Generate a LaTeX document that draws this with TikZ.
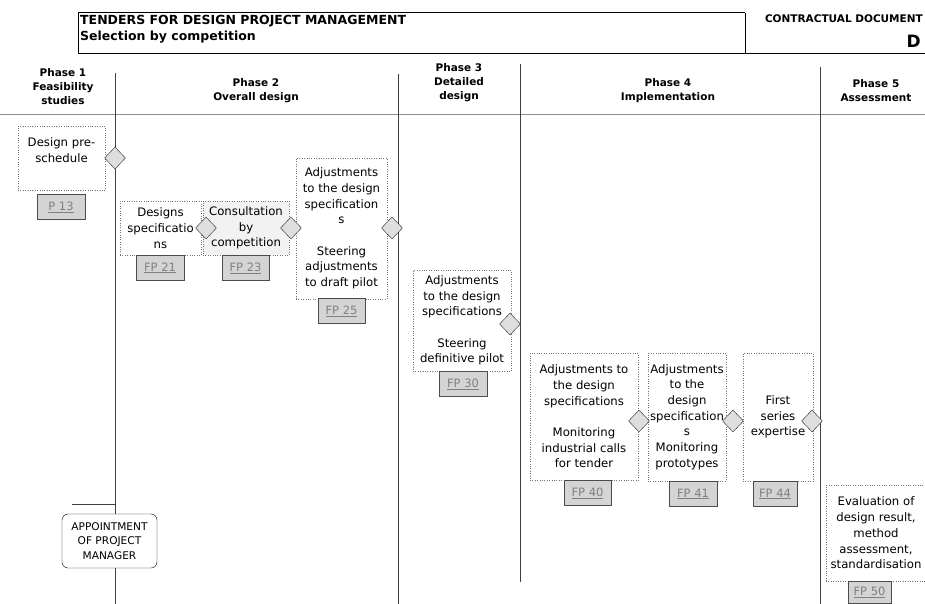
\documentclass[tikz,border=0pt]{standalone}
\usepackage{fontspec}
\setmainfont{DejaVu Sans}
\usetikzlibrary{shapes.geometric}

\begin{document}
\begin{tikzpicture}[x = 1pt, y = -1pt,
                stage/.style = {draw = black!55, dotted, align = center, inner sep = 0pt,
                                font = \fontsize{11.7}{15.7}\selectfont},
                gate/.style = {diamond, draw = black!85, fill = black!13, inner sep = 0pt,
                               minimum width = 21pt, minimum height = 22pt},
                sheet/.style = {draw = black!70, line width = 1pt, fill = black!17, inner sep = 0pt,
                                minimum height = 25pt, text = black!50,
                                font = \fontsize{11.5}{14}\selectfont},
                phase/.style = {align = center, font = \bfseries\fontsize{10.5}{14}\selectfont},
                lane/.style = {draw = black!75, line width = 0.9pt}]
                \clip (0,0) rectangle (925,604);
                \draw[line width = 1pt] (745,13) -- (78,13) -- (78,54) -- (925,54);
                \draw[line width = 1pt] (745,13) -- (745,54);
                \node[anchor = west, inner sep = 0pt, font = \bfseries\fontsize{12.5}{15}\selectfont] (title) at (80,21) {TENDERS FOR DESIGN PROJECT MANAGEMENT};
                \node[anchor = west, inner sep = 0pt, font = \bfseries\fontsize{12.5}{15}\selectfont] (subtitle) at (80,37) {Selection by competition};
                \node[anchor = east, inner sep = 0pt, font = \bfseries\fontsize{10.5}{13}\selectfont] (doc) at (923,19) {CONTRACTUAL DOCUMENT};
                \node[anchor = east, inner sep = 0pt, font = \bfseries\fontsize{17}{20}\selectfont] (docletter) at (921,41) {D};

                \node[phase] (ph1) at (63,87) {Phase 1\\Feasibility\\studies};
                \node[phase] (ph2) at (256,91) {Phase 2\\Overall design};
                \node[phase] (ph3) at (459,83) {Phase 3\\Detailed\\design};
                \node[phase] (ph4) at (668,91) {Phase 4\\Implementation};
                \node[phase] (ph5) at (876,91) {Phase 5\\Assessment};

                \draw[black!45, line width = 0.8pt] (0,114) -- (925,114);
                \draw[lane] (115,73) -- (115,604);
                \draw[lane] (398,74) -- (398,604);
                \draw[lane] (520,64) -- (520,582);
                \draw[lane] (820,67) -- (820,604);
                \coordinate (tick) at (72,504);
                \draw[lane] (tick) -- (115,504);

                \node[stage, minimum width = 87pt, minimum height = 64pt] (pre) at (61.5,158) {Design pre-\\schedule\\ ~};
                \node[stage, minimum width = 81pt, minimum height = 54pt] (spec) at (160.5,228) {Designs\\specificatio\\ns};
                \node[stage, fill = black!5, minimum width = 86pt, minimum height = 54pt] (consult) at (246,228) {Consultation\\by\\competition};
                \node[stage, minimum width = 91pt, minimum height = 141pt] (draft) at (341.5,228.5) {Adjustments\\to the design\\specification\\s\\[15.7pt]Steering\\adjustments\\to draft pilot};
                \node[stage, minimum width = 98pt, minimum height = 101pt] (pilot) at (462,320.5) {Adjustments\\to the design\\specifications\\[15.7pt]Steering\\definitive pilot};
                \node[stage, minimum width = 108pt, minimum height = 127pt] (calls) at (584,416.5) {Adjustments to\\the design\\specifications\\[15.7pt]Monitoring\\industrial calls\\for tender};
                \node[stage, minimum width = 78pt, minimum height = 128pt] (proto) at (687,417) {Adjustments\\to the\\design\\specification\\s\\Monitoring\\prototypes};
                \node[stage, minimum width = 70pt, minimum height = 128pt] (series) at (778,417) {First\\series\\expertise};
                \node[stage, minimum width = 100pt, minimum height = 96pt] (eval) at (876,533) {Evaluation of\\design result,\\method\\assessment,\\standardisation};

                \node[gate] (g13) at (115,158) {};
                \node[gate] (g21) at (206,228) {};
                \node[gate] (g23) at (291,228) {};
                \node[gate] (g25) at (392,228) {};
                \node[gate] (g30) at (510,324) {};
                \node[gate] (g40) at (639,421) {};
                \node[gate] (g41) at (733,421) {};
                \node[gate] (g44) at (812,421) {};

                \node[sheet, minimum width = 48pt] (p13) at (61,207) {\underline{P 13}};
                \node[sheet, minimum width = 48pt] (fp21) at (160,268) {\underline{FP 21}};
                \node[sheet, minimum width = 47pt] (fp23) at (245.5,268) {\underline{FP 23}};
                \node[sheet, minimum width = 47pt] (fp25) at (341.5,311) {\underline{FP 25}};
                \node[sheet, minimum width = 48pt] (fp30) at (463,384) {\underline{FP 30}};
                \node[sheet, minimum width = 47pt] (fp40) at (587.5,493) {\underline{FP 40}};
                \node[sheet, minimum width = 48pt] (fp41) at (693,494) {\underline{FP 41}};
                \node[sheet, minimum width = 44pt] (fp44) at (775,494) {\underline{FP 44}};
                \node[sheet, minimum width = 43pt, minimum height = 22pt] (fp50) at (869.5,592) {\underline{FP 50}};

                \node[draw, rounded corners = 6pt, fill = white, minimum width = 95pt, minimum height = 54pt,
                      inner sep = 0pt, align = center, font = \fontsize{10.6}{14.5}\selectfont] (appoint) at (109.5,541) {APPOINTMENT\\OF PROJECT\\MANAGER};
            \end{tikzpicture}
\end{document}
